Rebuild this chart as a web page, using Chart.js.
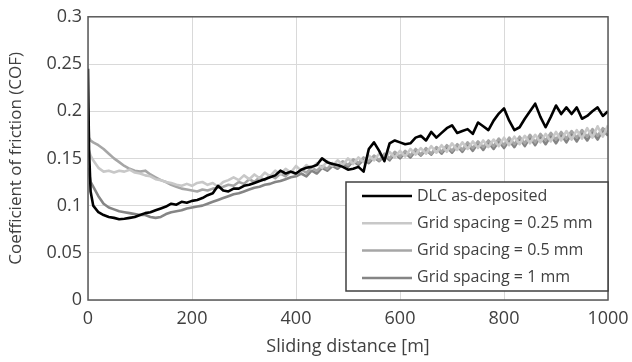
<!DOCTYPE html>
<html>
<head>
<meta charset="utf-8">
<script src="https://cdn.jsdelivr.net/npm/chart.js@4.4.0/dist/chart.umd.min.js"></script>
<style>
  html, body { margin: 0; padding: 0; background: #fff; }
  #chart { display: block; }
</style>
</head>
<body>
<canvas id="chart" width="632" height="362"></canvas>
<script>
  // sliding distance [m]
  const distance = [0, 2, 5, 10, 20, 30, 40, 50, 60, 70, 80, 90, 100,
    110, 120, 130, 140, 150, 160, 170, 180, 190, 200,
    210, 220, 230, 240, 250, 260, 270, 280, 290, 300,
    310, 320, 330, 340, 350, 360, 370, 380, 390, 400,
    410, 420, 430, 440, 450, 460, 470, 480, 490, 500,
    510, 520, 530, 540, 550, 560, 570, 580, 590, 600,
    610, 620, 630, 640, 650, 660, 670, 680, 690, 700,
    710, 720, 730, 740, 750, 760, 770, 780, 790, 800,
    810, 820, 830, 840, 850, 860, 870, 880, 890, 900,
    910, 920, 930, 940, 950, 960, 970, 980, 990, 1000];

  const cofAsDeposited = [0.245, 0.16, 0.115, 0.1, 0.093, 0.09, 0.088, 0.087, 0.0855, 0.086, 0.087, 0.088, 0.09,
    0.092, 0.093, 0.095, 0.097, 0.099, 0.102, 0.101, 0.104, 0.103, 0.105,
    0.106, 0.108, 0.111, 0.113, 0.121, 0.116, 0.115, 0.118, 0.118, 0.121,
    0.122, 0.124, 0.126, 0.128, 0.130, 0.132, 0.137, 0.134, 0.136, 0.134,
    0.138, 0.140, 0.141, 0.143, 0.150, 0.146, 0.144, 0.143, 0.141, 0.138,
    0.139, 0.141, 0.136, 0.160, 0.167, 0.158, 0.147, 0.166, 0.169, 0.167,
    0.165, 0.166, 0.172, 0.174, 0.169, 0.178, 0.172, 0.177, 0.182, 0.185,
    0.177, 0.179, 0.181, 0.176, 0.188, 0.184, 0.180, 0.190, 0.1975, 0.203,
    0.190, 0.180, 0.183, 0.192, 0.200, 0.208, 0.194, 0.183, 0.194, 0.206,
    0.197, 0.204, 0.197, 0.204, 0.192, 0.195, 0.200, 0.204, 0.195, 0.200];

  const cofGrid025 = [0.16, 0.158, 0.153, 0.148, 0.14, 0.136, 0.137, 0.135, 0.137, 0.136, 0.138, 0.135, 0.134,
    0.132, 0.131, 0.128, 0.127, 0.125, 0.124, 0.122, 0.121, 0.123, 0.121,
    0.124, 0.125, 0.122, 0.124, 0.120, 0.125, 0.127, 0.130, 0.127, 0.132,
    0.128, 0.133, 0.129, 0.135, 0.131, 0.137, 0.133, 0.139, 0.135, 0.142,
    0.137, 0.143, 0.139, 0.145, 0.140, 0.147, 0.142, 0.148, 0.143, 0.150,
    0.144, 0.151, 0.146, 0.153, 0.148, 0.155, 0.149, 0.157, 0.151, 0.158,
    0.152, 0.160, 0.154, 0.161, 0.155, 0.163, 0.156, 0.164, 0.157, 0.166,
    0.159, 0.167, 0.160, 0.168, 0.161, 0.169, 0.162, 0.170, 0.163, 0.172,
    0.164, 0.173, 0.165, 0.174, 0.166, 0.175, 0.167, 0.176, 0.168, 0.178,
    0.169, 0.179, 0.170, 0.180, 0.171, 0.182, 0.172, 0.184, 0.173, 0.185];

  const cofGrid05 = [0.203, 0.172, 0.169, 0.167, 0.164, 0.16, 0.155, 0.15, 0.146, 0.142, 0.139, 0.137, 0.136,
    0.137, 0.133, 0.130, 0.127, 0.125, 0.122, 0.120, 0.118, 0.117, 0.116,
    0.115, 0.117, 0.116, 0.118, 0.119, 0.120, 0.122, 0.121, 0.125, 0.123,
    0.128, 0.125, 0.130, 0.127, 0.132, 0.129, 0.134, 0.131, 0.136, 0.133,
    0.138, 0.135, 0.140, 0.137, 0.142, 0.139, 0.145, 0.141, 0.147, 0.143,
    0.149, 0.145, 0.151, 0.147, 0.153, 0.148, 0.155, 0.150, 0.157, 0.152,
    0.158, 0.153, 0.160, 0.154, 0.161, 0.155, 0.162, 0.157, 0.164, 0.158,
    0.165, 0.159, 0.167, 0.161, 0.168, 0.162, 0.169, 0.163, 0.171, 0.164,
    0.172, 0.165, 0.173, 0.166, 0.175, 0.167, 0.176, 0.169, 0.177, 0.170,
    0.178, 0.171, 0.179, 0.172, 0.180, 0.173, 0.181, 0.174, 0.182, 0.178];

  const cofGrid1 = [0.14, 0.135, 0.125, 0.12, 0.11, 0.102, 0.098, 0.096, 0.094, 0.093, 0.092, 0.091, 0.09,
    0.090, 0.088, 0.087, 0.088, 0.091, 0.093, 0.094, 0.095, 0.097, 0.098,
    0.099, 0.100, 0.102, 0.104, 0.106, 0.108, 0.110, 0.112, 0.113, 0.115,
    0.117, 0.119, 0.120, 0.122, 0.123, 0.125, 0.126, 0.128, 0.130, 0.131,
    0.134, 0.131, 0.137, 0.134, 0.140, 0.137, 0.142, 0.139, 0.144, 0.141,
    0.147, 0.143, 0.149, 0.145, 0.151, 0.147, 0.153, 0.148, 0.155, 0.150,
    0.156, 0.151, 0.158, 0.153, 0.159, 0.154, 0.161, 0.155, 0.162, 0.156,
    0.163, 0.157, 0.165, 0.158, 0.166, 0.159, 0.167, 0.160, 0.168, 0.161,
    0.169, 0.162, 0.171, 0.163, 0.172, 0.164, 0.173, 0.165, 0.174, 0.166,
    0.175, 0.167, 0.176, 0.168, 0.177, 0.169, 0.178, 0.170, 0.180, 0.174];

  const seriesNames = ['DLC as-deposited', 'Grid spacing = 0.25 mm', 'Grid spacing = 0.5 mm', 'Grid spacing = 1 mm'];
  const seriesColors = ['#000000', '#c8c8c8', '#a6a6a6', '#858585'];
  const seriesValues = [cofAsDeposited, cofGrid025, cofGrid05, cofGrid1];

  const textColor = '#404040';
  const fontFamily = '"Open Sans", sans-serif';

  // frame round the plot area
  const frame = {
    id: 'frame',
    afterDatasetsDraw(chart) {
      const a = chart.chartArea, ctx = chart.ctx;
      ctx.save();
      ctx.strokeStyle = '#595959';
      ctx.lineWidth = 1.5;
      ctx.strokeRect(a.left, a.top, a.right - a.left, a.bottom - a.top);
      ctx.restore();
    }
  };

  // boxed legend inside the plot, lower right
  const boxLegend = {
    id: 'boxLegend',
    afterDraw(chart) {
      const a = chart.chartArea, ctx = chart.ctx;
      const w = 262, h = 109;
      const x = a.right - w, y = a.bottom - 9 - h;
      ctx.save();
      ctx.fillStyle = '#fff';
      ctx.fillRect(x, y, w, h);
      ctx.strokeStyle = '#404040';
      ctx.lineWidth = 1.5;
      ctx.strokeRect(x, y, w, h);
      ctx.font = '16px ' + fontFamily;
      ctx.textBaseline = 'middle';
      chart.data.datasets.forEach((ds, i) => {
        const ry = y + 14 + i * 27.3;
        ctx.strokeStyle = ds.borderColor;
        ctx.lineWidth = 2.5;
        ctx.beginPath();
        ctx.moveTo(x + 16, ry);
        ctx.lineTo(x + 66, ry);
        ctx.stroke();
        ctx.fillStyle = textColor;
        ctx.fillText(ds.label, x + 71, ry);
      });
      ctx.restore();
    }
  };

  new Chart(document.getElementById('chart').getContext('2d'), {
    type: 'line',
    data: {
      datasets: seriesNames.map((name, i) => ({
        label: name,
        data: distance.map((d, j) => ({ x: d, y: seriesValues[i][j] })),
        borderColor: seriesColors[i],
        borderWidth: 2.6,
        pointRadius: 0,
        tension: 0,
        borderJoinStyle: 'round'
      }))
    },
    options: {
      responsive: false,
      animation: false,
      layout: { padding: { left: 0, right: 24, top: 16, bottom: 0 } },
      plugins: { legend: { display: false }, tooltip: { enabled: false } },
      scales: {
        x: {
          type: 'linear',
          min: 0, max: 1000,
          ticks: { stepSize: 200, color: textColor, font: { family: fontFamily, size: 18 }, padding: 8, maxRotation: 0,
            callback: v => String(v) },
          grid: { color: '#d9d9d9', lineWidth: 1, drawTicks: false },
          border: { display: false },
          title: { display: true, text: 'Sliding distance [m]', color: textColor, font: { family: fontFamily, size: 18 }, padding: { top: 0 } },
          afterFit(scale) { scale.height = 62; scale.paddingLeft = 0; scale.paddingRight = 0; }
        },
        y: {
          min: 0, max: 0.3,
          ticks: { stepSize: 0.05, color: textColor, font: { family: fontFamily, size: 18 }, padding: 6,
            callback: v => +v.toFixed(2) },
          grid: { color: '#d9d9d9', lineWidth: 1, drawTicks: false },
          border: { display: false },
          title: { display: true, text: 'Coefficient of friction (COF)', color: textColor, font: { family: fontFamily, size: 17 }, padding: { top: 6, bottom: 0 } },
          afterFit(scale) { scale.width = 88; }
        }
      }
    },
    plugins: [frame, boxLegend]
  });
</script>
</body>
</html>
